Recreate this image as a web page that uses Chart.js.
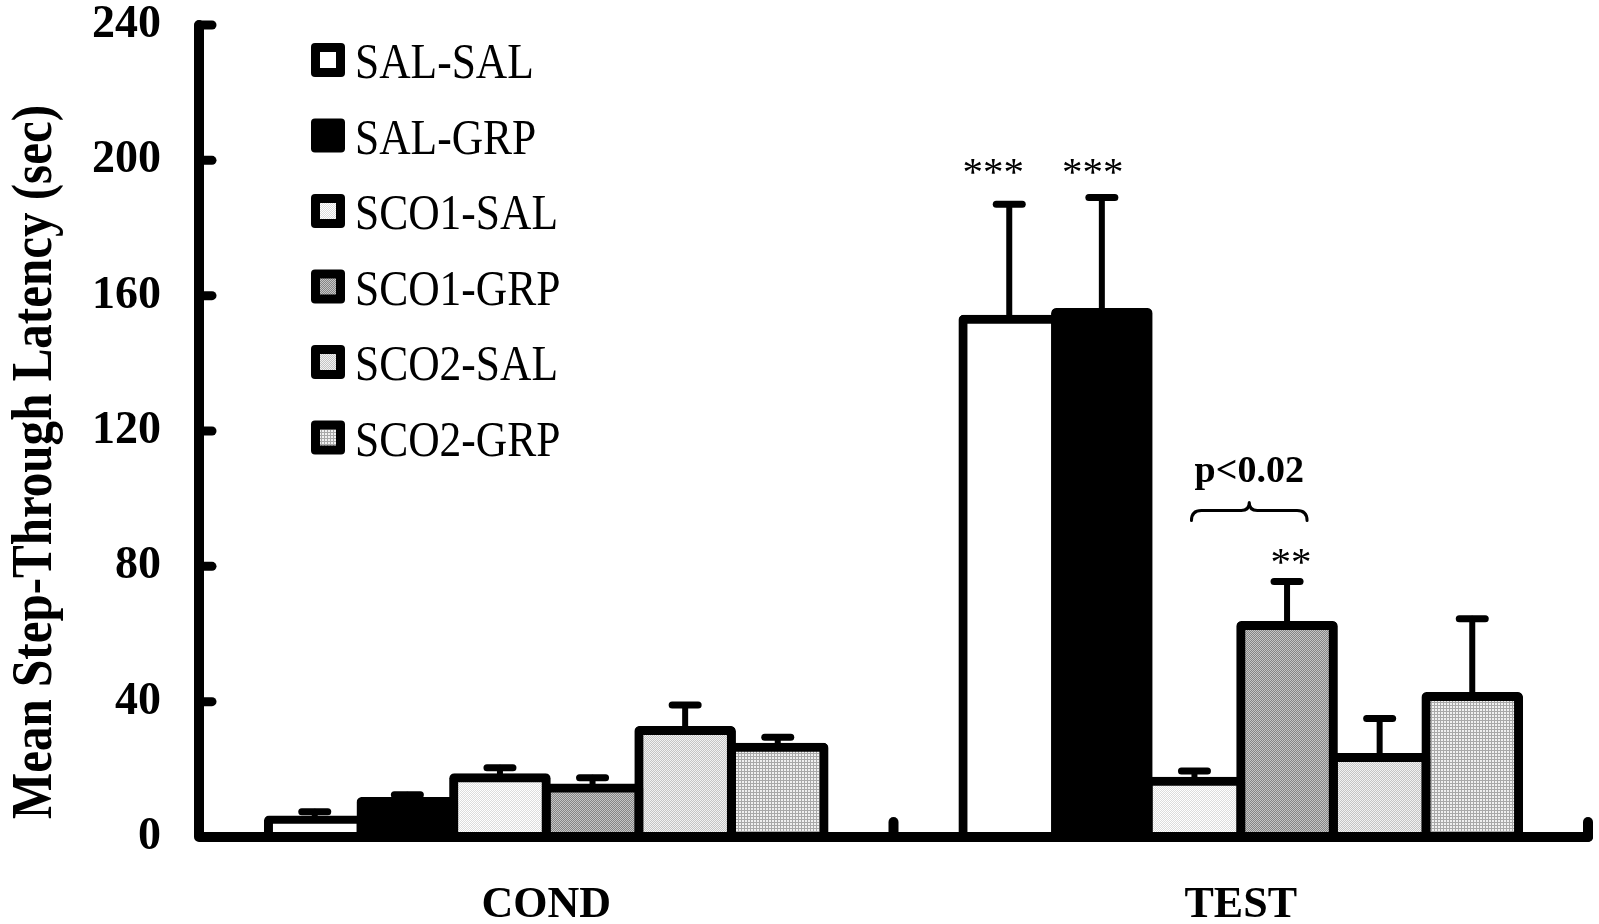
<!DOCTYPE html>
<html>
<head>
<meta charset="utf-8">
<script src="https://cdn.jsdelivr.net/npm/chart.js@4.4.1/dist/chart.umd.min.js"></script>
<style>
  html, body { margin: 0; padding: 0; background: #fff; }
  #wrap { width: 1599px; height: 924px; position: relative; }
</style>
</head>
<body>
<div id="wrap"><canvas id="chart"></canvas></div>
<script>
// data (mean latency, sec) and SEM
const categories = ['COND', 'TEST'];
const groupNames = ['SAL-SAL', 'SAL-GRP', 'SCO1-SAL', 'SCO1-GRP', 'SCO2-SAL', 'SCO2-GRP'];

const salSal  = [5, 153];
const salGrp  = [10.5, 155];
const sco1Sal = [17.5, 16.5];
const sco1Grp = [14.5, 62.5];
const sco2Sal = [31.5, 23.5];
const sco2Grp = [26.5, 41.5];

const salSalSem  = [2.5, 34];
const salGrpSem  = [2, 34];
const sco1SalSem = [3, 3];
const sco1GrpSem = [3, 13];
const sco2SalSem = [7.5, 11.5];
const sco2GrpSem = [3, 23];

const yMin = 0, yMax = 240, yStep = 40;
const yTitle = 'Mean Step-Through Latency (sec)';

// significance marks (dataset index, category index, y in data units)
const stars = [
  { text: '***', ds: 0, cat: 1, y: 192.8, dx: -16 },
  { text: '***', ds: 1, cat: 1, y: 192.8, dx: -9 },
  { text: '**',  ds: 3, cat: 1, y: 77.3,  dx: 4 }
];
const pNote = { text: 'p<0.02', from: 2, to: 3, cat: 1, braceY: 96.5, textY: 105 };

const SERIF = '"Liberation Serif", "Times New Roman", serif';

// dithered fills like the old Excel patterns
function pattern(size, pix) {
  const c = document.createElement('canvas');
  c.width = size; c.height = size;
  const g = c.getContext('2d');
  for (let y = 0; y < size; y++) {
    for (let x = 0; x < size; x++) {
      g.fillStyle = pix(x, y);
      g.fillRect(x, y, 1, 1);
    }
  }
  return g.createPattern(c, 'repeat');
}
const fills = [
  '#ffffff',
  '#000000',
  pattern(2, (x, y) => (x + y) % 2 ? '#dcdcdc' : '#ffffff'),
  pattern(2, (x, y) => (x + y) % 2 ? '#858585' : '#c6c6c6'),
  pattern(2, (x, y) => (x + y) % 2 ? '#c4c4c4' : '#f2f2f2'),
  pattern(3, (x, y) => (x === 0 || y === 0) ? '#a8a8a8' : '#f0f0f0')
];

const means = [salSal, salGrp, sco1Sal, sco1Grp, sco2Sal, sco2Grp];
const sems = [salSalSem, salGrpSem, sco1SalSem, sco1GrpSem, sco2SalSem, sco2GrpSem];

const datasets = groupNames.map((name, i) => ({
  label: name,
  data: means[i],
  sem: sems[i],
  backgroundColor: fills[i],
  borderColor: '#000',
  borderWidth: 9,
  borderRadius: 5,
  inflateAmount: 4.5,
  categoryPercentage: 0.8,
  barPercentage: 1.0
}));

// axes, inward ticks, error bars and marks
const decorations = {
  id: 'decorations',
  afterDatasetsDraw(chart) {
    const ctx = chart.ctx;
    const area = chart.chartArea;
    const y = chart.scales.y;
    const x = chart.scales.x;
    ctx.save();
    ctx.strokeStyle = '#000';
    ctx.lineCap = 'round';
    ctx.lineJoin = 'round';

    // axis lines
    ctx.lineWidth = 10;
    ctx.beginPath();
    ctx.moveTo(area.left, area.top);
    ctx.lineTo(area.left, area.bottom);
    ctx.lineTo(area.right, area.bottom);
    ctx.stroke();

    // y ticks pointing into the plot
    ctx.lineWidth = 9;
    y.ticks.forEach(t => {
      if (t.value === yMin) return;
      const py = y.getPixelForValue(t.value);
      ctx.beginPath();
      ctx.moveTo(area.left, py);
      ctx.lineTo(area.left + 13, py);
      ctx.stroke();
    });

    // x ticks at category boundaries
    ctx.lineWidth = 10;
    for (let i = 1; i <= categories.length; i++) {
      const px = i < categories.length
        ? (x.getPixelForValue(i - 1) + x.getPixelForValue(i)) / 2
        : area.right;
      ctx.beginPath();
      ctx.moveTo(px, area.bottom);
      ctx.lineTo(px, area.bottom - 15);
      ctx.stroke();
    }

    // error bars (upper only)
    chart.data.datasets.forEach((ds, di) => {
      const meta = chart.getDatasetMeta(di);
      meta.data.forEach((bar, ci) => {
        const top = y.getPixelForValue(ds.data[ci]);
        const cap = y.getPixelForValue(ds.data[ci] + ds.sem[ci]);
        ctx.lineWidth = 6;
        ctx.beginPath();
        ctx.moveTo(bar.x, top);
        ctx.lineTo(bar.x, cap);
        ctx.stroke();
        ctx.lineWidth = 7;
        ctx.beginPath();
        ctx.moveTo(bar.x - 13, cap);
        ctx.lineTo(bar.x + 13, cap);
        ctx.stroke();
      });
    });

    // asterisks
    ctx.fillStyle = '#000';
    ctx.textAlign = 'center';
    ctx.textBaseline = 'alphabetic';
    ctx.font = '41px ' + SERIF;
    stars.forEach(s => {
      const bar = chart.getDatasetMeta(s.ds).data[s.cat];
      ctx.fillText(s.text, bar.x + s.dx, y.getPixelForValue(s.y));
    });

    // brace + p value
    const b1 = chart.getDatasetMeta(pNote.from).data[pNote.cat];
    const b2 = chart.getDatasetMeta(pNote.to).data[pNote.cat];
    const L = b1.x - 3, R = b2.x + 20, M = (L + R) / 2;
    const yl = y.getPixelForValue(pNote.braceY);
    ctx.lineWidth = 3;
    ctx.beginPath();
    ctx.moveTo(L, yl + 10);
    ctx.quadraticCurveTo(L, yl, L + 10, yl);
    ctx.lineTo(M - 8, yl);
    ctx.quadraticCurveTo(M, yl, M, yl - 8);
    ctx.quadraticCurveTo(M, yl, M + 8, yl);
    ctx.lineTo(R - 10, yl);
    ctx.quadraticCurveTo(R, yl, R, yl + 10);
    ctx.stroke();
    ctx.font = 'bold 38px ' + SERIF;
    ctx.fillText(pNote.text, M, y.getPixelForValue(pNote.textY));
    ctx.restore();
  },
  afterDraw(chart) {
    const ctx = chart.ctx;
    ctx.save();
    // legend inside the plot, top-left
    const lx = 311, ly = 60, gap = 75.5, box = 34;
    ctx.textAlign = 'left';
    ctx.textBaseline = 'alphabetic';
    chart.data.datasets.forEach((ds, i) => {
      const cy = ly + i * gap;
      ctx.beginPath();
      ctx.roundRect(lx, cy - box / 2, box, box, 4);
      ctx.fillStyle = '#000';
      ctx.fill();
      ctx.beginPath();
      ctx.rect(lx + 9, cy - box / 2 + 9, box - 18, box - 18);
      ctx.fillStyle = ds.backgroundColor;
      ctx.fill();
      ctx.fillStyle = '#000';
      ctx.save();
      ctx.font = '50px ' + SERIF;
      ctx.translate(lx + 44, cy + 18);
      ctx.scale(0.87, 1);
      ctx.fillText(ds.label, 0, 0);
      ctx.restore();
    });

    // y axis title, condensed like the original
    ctx.font = 'bold 56px ' + SERIF;
    const w = ctx.measureText(yTitle).width;
    ctx.translate(51, 462);
    ctx.rotate(-Math.PI / 2);
    ctx.scale(714 / w, 1);
    ctx.textAlign = 'center';
    ctx.fillText(yTitle, 0, 0);
    ctx.restore();
  }
};

new Chart(document.getElementById('chart'), {
  type: 'bar',
  data: { labels: categories, datasets: datasets },
  options: {
    responsive: true,
    maintainAspectRatio: false,
    animation: false,
    layout: { padding: { top: 24, right: 11, bottom: 0, left: 0 } },
    plugins: {
      legend: { display: false },
      tooltip: { enabled: false }
    },
    scales: {
      x: {
        grid: { display: true, drawOnChartArea: false, drawTicks: true, tickLength: 40, tickColor: 'rgba(0,0,0,0)' },
        border: { display: false },
        ticks: {
          color: '#000',
          padding: 7,
          font: { family: SERIF, size: 44, weight: 'bold', lineHeight: 1 }
        },
        afterFit: s => { s.height = 87; }
      },
      y: {
        min: yMin,
        max: yMax,
        grid: { display: true, drawOnChartArea: false, drawTicks: true, tickLength: 36, tickColor: 'rgba(0,0,0,0)' },
        border: { display: false },
        ticks: {
          stepSize: yStep,
          color: '#000',
          padding: 2,
          font: { family: SERIF, size: 46, weight: 'bold', lineHeight: 1 }
        },
        afterFit: s => { s.width = 199; }
      }
    }
  },
  plugins: [decorations]
});
</script>
</body>
</html>
